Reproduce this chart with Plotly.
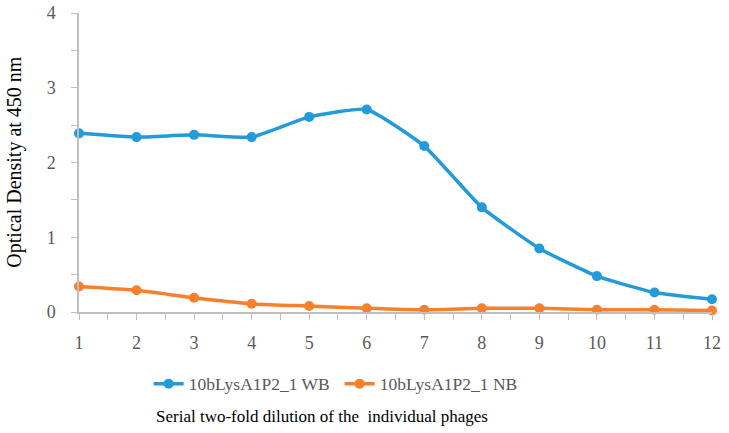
import plotly.graph_objects as go

dilutions = [1, 2, 3, 4, 5, 6, 7, 8, 9, 10, 11, 12]
wb_values = [2.39, 2.34, 2.37, 2.34, 2.61, 2.71, 2.22, 1.40, 0.85, 0.48, 0.26, 0.17]
nb_values = [0.34, 0.29, 0.19, 0.11, 0.08, 0.05, 0.03, 0.05, 0.05, 0.03, 0.03, 0.02]
series_names = ["10bLysA1P2_1 WB", "10bLysA1P2_1 NB"]
y_ticks = [0, 1, 2, 3, 4]

BLUE = "#229BD8"
ORANGE = "#F8802C"
GRID = "#BFBFBF"
TICKC = "#595959"
FONT = "Liberation Serif"

fig = go.Figure()
for name, vals, col in [(series_names[0], wb_values, BLUE), (series_names[1], nb_values, ORANGE)]:
    fig.add_trace(go.Scatter(
        x=dilutions, y=vals, name=name, mode="lines+markers",
        line=dict(color=col, width=3.5, shape="spline", smoothing=0.45),
        marker=dict(color=col, size=10),
        cliponaxis=False,
    ))

fig.update_layout(
    width=729, height=433,
    margin=dict(l=79, r=17, t=13, b=121, autoexpand=False),
    paper_bgcolor="white", plot_bgcolor="white",
    font=dict(family=FONT, color=TICKC, size=18),
    showlegend=True,
    legend=dict(orientation="h", x=0.11, xanchor="left", y=-0.24, yanchor="middle",
                font=dict(family=FONT, size=17.5, color=TICKC), bgcolor="rgba(0,0,0,0)",
                itemwidth=30, tracegroupgap=0, entrywidth=146),
    xaxis=dict(range=[1, 12], tickmode="array", tickvals=dilutions,
               ticktext=[str(d) for d in dilutions], automargin=False,
               showgrid=False, zeroline=False, showline=True, linecolor=GRID, linewidth=1.5,
               ticks="outside", ticklen=6, tickcolor=GRID, tickwidth=1.3,
               ticklabelstandoff=8, ticklabeloverflow="allow",
               minor=dict(dtick=0.5, tick0=0.5, ticks="outside", ticklen=6, tickcolor=GRID, tickwidth=1.3, showgrid=False),
               tickfont=dict(family=FONT, size=18, color=TICKC)),
    yaxis=dict(range=[0, 4], tickmode="array", tickvals=y_ticks, automargin=False,
               showgrid=False, zeroline=False, showline=True, linecolor=GRID, linewidth=1.5,
               ticks="outside", ticklen=6, tickcolor=GRID, tickwidth=1.3,
               ticklabelstandoff=12, ticklabeloverflow="allow",
               minor=dict(dtick=0.5, tick0=0, ticks="outside", ticklen=6, tickcolor=GRID, tickwidth=1.3, showgrid=False),
               tickfont=dict(family=FONT, size=18, color=TICKC)),
    annotations=[
        dict(text="Serial two-fold dilution of the  individual phages", xref="paper", yref="paper",
             x=0.384, y=-0.348, xanchor="center", yanchor="middle", showarrow=False,
             font=dict(family=FONT, size=17, color="black")),
        dict(text="Optical Density at 450 nm", xref="paper", yref="paper",
             x=-0.101, y=0.503, xanchor="center", yanchor="middle", textangle=-90, showarrow=False,
             font=dict(family=FONT, size=20, color="black")),
    ],
)

fig.write_html("out.html", config={"displayModeBar": False},
               post_script="document.body.style.margin='0';")
